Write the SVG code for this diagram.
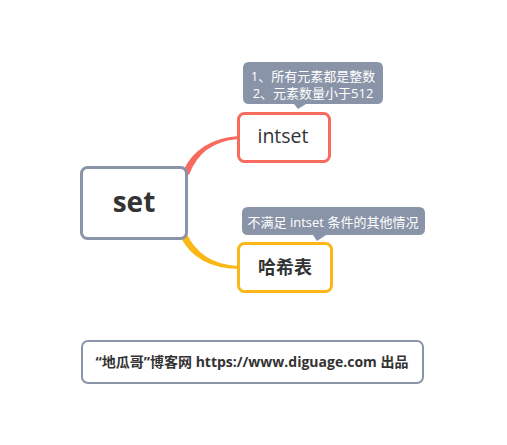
<svg xmlns="http://www.w3.org/2000/svg" width="507" height="445" viewBox="0 0 507 445">
<style>
.box{fill:#fff;stroke-width:3}
.t{font-family:"Open Sans","Noto Sans CJK SC",sans-serif;fill:#333;text-anchor:middle}
.c{font-family:"Open Sans","Noto Sans CJK SC",sans-serif;fill:#fff;font-size:13px;text-anchor:middle}
.callout{fill:#8a94a8}
</style>
<rect width="507" height="445" fill="#fff"/>
<g id="connectors">
<path d="M183,171 Q198,139 238,136 L238,139 Q201,142 189,175 Z" fill="#f76b5e"/>
<path d="M186,232 Q200,264 238,266 L238,269 Q197,268 181,238 Z" fill="#fbb717"/>
</g>
<g id="node-set">
<rect class="box" x="81.5" y="167.5" width="105" height="71" rx="6" stroke="#8a94a8"/>
<text class="t" x="134" y="212" font-size="28" font-weight="bold">set</text>
</g>
<g id="node-intset">
<rect class="box" x="238.5" y="113.5" width="91" height="48" rx="6" stroke="#f76b5e"/>
<text class="t" x="283" y="143" font-size="19.5">intset</text>
</g>
<g id="node-hash">
<rect class="box" x="238.5" y="243.5" width="93" height="48" rx="6" stroke="#fbb717"/>
<text class="t" x="285" y="274" font-size="18" font-weight="bold">哈希表</text>
</g>
<g id="callout-intset">
<path class="callout" d="M249,62 H377 Q383,62 383,68 V98 Q383,104 377,104 H306 L298,109 L294,104 H249 Q243,104 243,98 V68 Q243,62 249,62 Z"/>
<text class="c" x="313" y="81">1、所有元素都是整数</text>
<text class="c" x="313" y="98">2、元素数量小于512</text>
</g>
<g id="callout-hash">
<path class="callout" d="M248,207 H419 Q425,207 425,213 V229 Q425,235 419,235 H326 L317,241 L313,235 H248 Q242,235 242,229 V213 Q242,207 248,207 Z"/>
<text class="c" x="333" y="227">不满足 intset 条件的其他情况</text>
</g>
<g id="footer">
<rect x="82" y="341" width="341" height="42" rx="6" fill="#fff" stroke="#8a94a8" stroke-width="2"/>
<text class="t" x="252" y="367" font-size="14" font-weight="bold">“地瓜哥”博客网 https://www.diguage.com 出品</text>
</g>
</svg>
